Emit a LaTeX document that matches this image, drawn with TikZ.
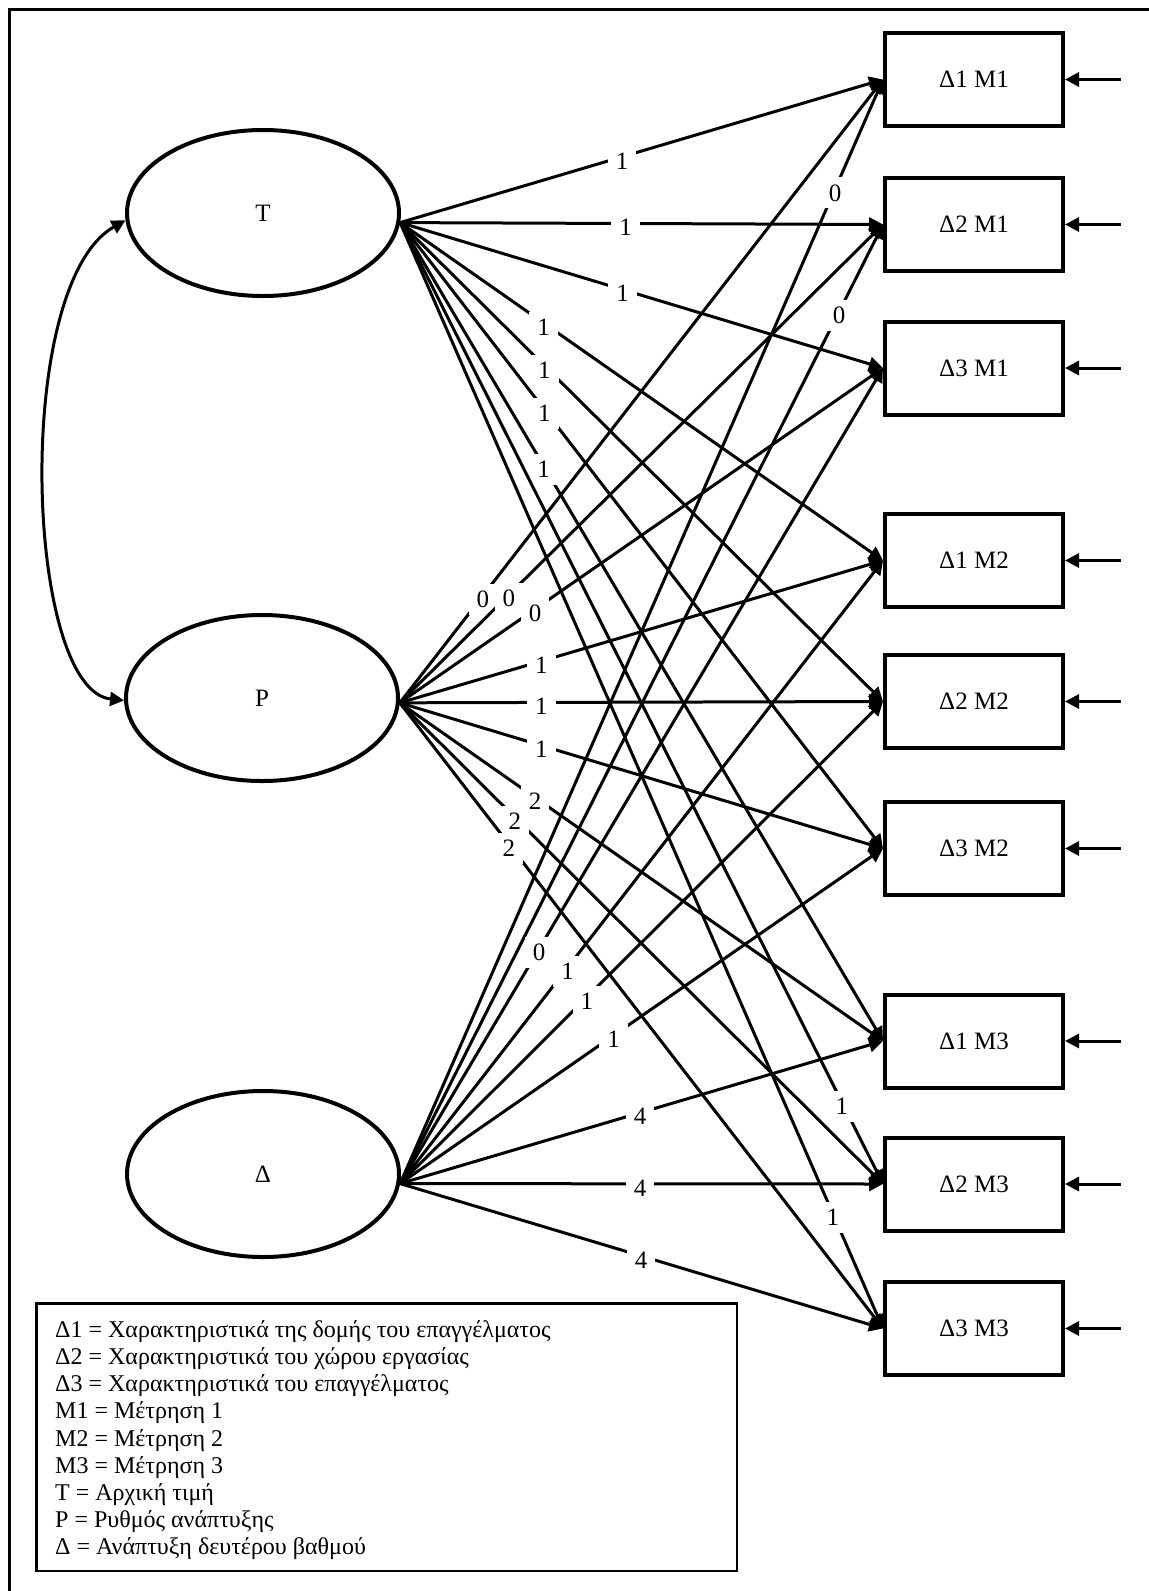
\documentclass[tikz,border=0pt]{standalone}
\usepackage{fontspec}
\setmainfont{Liberation Serif}
\usetikzlibrary{arrows.meta,shapes.geometric}
\begin{document}
\begin{tikzpicture}[x=1pt,y=-1pt,
  every node/.style={font=\fontsize{25}{29}\selectfont},
  latent/.style={draw, ellipse, line width=4pt, minimum width=272pt, minimum height=166pt, inner sep=0pt},
  obs/.style={draw, rectangle, line width=4pt, minimum width=178pt, minimum height=93pt, inner sep=0pt},
  tip/.style={-{Triangle[length=14pt,width=14pt]}},
  conn/.style={line width=3pt, tip},
  lbl/.style={fill=white, inner xsep=8pt, inner ysep=7pt, yshift=-4pt},
  legline/.style={anchor=base west, inner sep=0pt, font=\fontsize{24}{27.2}\selectfont},
  legendbox/.style={draw, line width=2.5pt, minimum width=700.5pt, minimum height=267.5pt, inner sep=0pt}
]
% page area and outer frame
\useasboundingbox (0,0) rectangle (1149,1591);
\clip (0,0) rectangle (1149,1591);
\fill[white] (0,0) rectangle (1149,1591);
\draw[line width=3pt] (9.5,9.5) rectangle (1170,1610);

% latent factors
\node[latent] (T) at (263,213) {T};
\node[latent] (P) at (262,698) {P};
\node[latent] (D) at (263,1174) {Δ};

% observed measures
\node[obs] (b11) at (974,79.5)   {Δ1 M1};
\node[obs] (b21) at (974,224.5)  {Δ2 M1};
\node[obs] (b31) at (974,368)    {Δ3 M1};
\node[obs] (b12) at (974,560.5)  {Δ1 M2};
\node[obs] (b22) at (974,701.5)  {Δ2 M2};
\node[obs] (b32) at (974,848.5)  {Δ3 M2};
\node[obs] (b13) at (974,1041)   {Δ1 M3};
\node[obs] (b23) at (974,1184)   {Δ2 M3};
\node[obs] (b33) at (974,1328.5) {Δ3 M3};

% covariance between T and P
\draw[line width=3pt, {Triangle[length=14pt,width=14pt]}-{Triangle[length=14pt,width=14pt]}]
  (T.183) .. controls (12,285) and (25,690) .. (P.181);

% loadings of T
\foreach \b/\p/\v in {b11/.460/1, b21/.467/1, b31/.461/1,
                      b12/.297/1, b22/.299/1, b32/.299/1,
                      b13/.297/1, b23/.915/1, b33/.896/1}
  \draw[conn] (T.-4) -- node[lbl, pos=\p] {\v} (\b.west);

% loadings of P
\foreach \b/\p/\v in {b11/.172/0, b21/.226/0, b31/.280/0,
                      b12/.293/1, b22/.293/1, b32/.293/1,
                      b13/.280/2, b23/.238/2, b33/.226/2}
  \draw[conn] (P.-2) -- node[lbl, pos=\p] {\v} (\b.west);

% loadings of Delta
\foreach \b/\p/\v in {b11/.901/0, b21/.909/0, b31/.288/0,
                      b12/.347/1, b22/.387/1, b32/.442/1,
                      b13/.497/4, b23/.497/4, b33/.499/4}
  \draw[conn] (D.-4) -- node[lbl, pos=\p] {\v} (\b.west);

% error terms
\foreach \b in {b11,b21,b31,b12,b22,b32,b13,b23,b33} {
  \coordinate (e-\b) at ([xshift=56pt]\b.east);
  \draw[conn] (e-\b) -- (\b.east);
}

% legend
\node[legendbox] (legend) at (386.5,1437) {};
\foreach \t [count=\i] in {%
  Δ1 = Χαρακτηριστικά της δομής του επαγγέλματος,
  Δ2 = Χαρακτηριστικά του χώρου εργασίας,
  Δ3 = Χαρακτηριστικά του επαγγέλματος,
  M1 = Μέτρηση 1,
  M2 = Μέτρηση 2,
  M3 = Μέτρηση 3,
  T = Αρχική τιμή,
  P = Ρυθμός ανάπτυξης,
  Δ = Ανάπτυξη δευτέρου βαθμού}
  \node[legline] (leg\i) at (55,{1337.3+27.2*(\i-1)}) {\t};
\end{tikzpicture}
\end{document}
